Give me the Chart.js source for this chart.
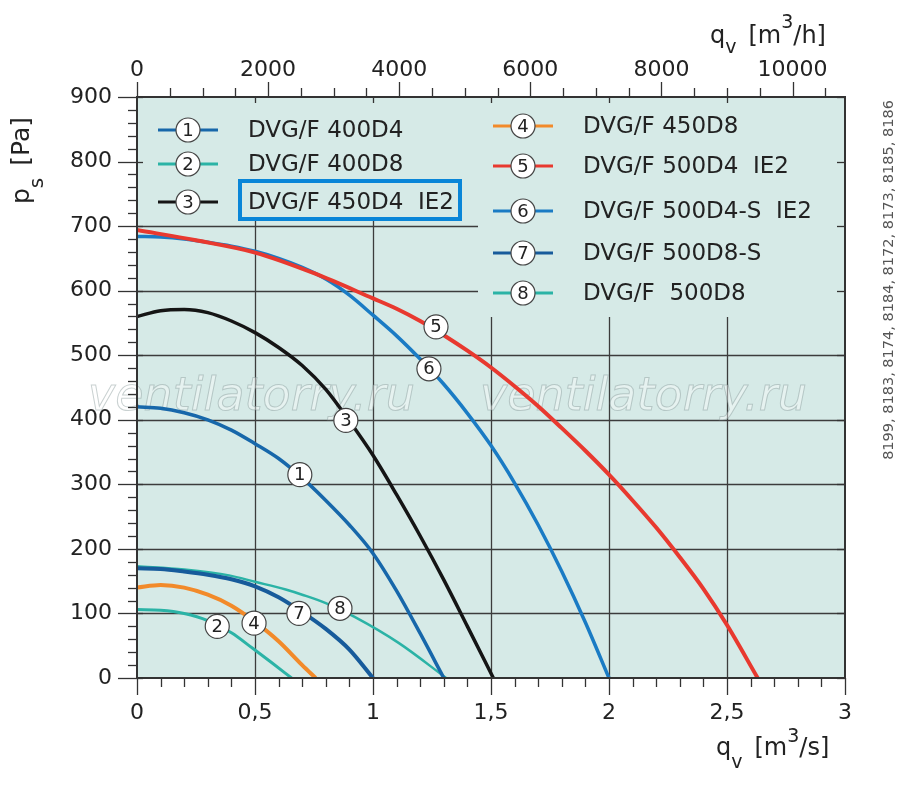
<!DOCTYPE html>
<html>
<head>
<meta charset="utf-8">
<script src="https://cdn.jsdelivr.net/npm/chart.js@4.4.1/dist/chart.umd.min.js"></script>
<style>
html, body { margin: 0; padding: 0; background: #fff; }
#c { display: block; }
</style>
</head>
<body>
<canvas id="c" width="900" height="785"></canvas>
<script>
// fan curves, q in m3/s, ps in Pa
var q1 = [0, 0.1, 0.2, 0.3, 0.4, 0.5, 0.6, 0.7, 0.8, 0.9, 1.0, 1.1, 1.2, 1.3];
var ps1 = [420, 418, 411, 400, 384, 363, 340, 310, 275, 237, 193, 135, 69, 0];
var q2 = [0, 0.1, 0.2, 0.3, 0.4, 0.49, 0.57, 0.655];
var ps2 = [106, 105, 100, 89, 70, 46, 24, 0];
var q3 = [0, 0.1, 0.2, 0.3, 0.4, 0.5, 0.6, 0.7, 0.8, 0.9, 1.0, 1.1, 1.2, 1.3, 1.4, 1.51];
var ps3 = [560, 569, 571, 566, 553, 535, 512, 484, 447, 398, 345, 284, 220, 152, 80, 0];
var q4 = [0, 0.1, 0.2, 0.3, 0.4, 0.5, 0.6, 0.7, 0.757];
var ps4 = [140, 144, 140, 129, 112, 87, 57, 20, 0];
var q5 = [0, 0.25, 0.5, 0.75, 1.0, 1.1, 1.2, 1.3, 1.4, 1.5, 1.6, 1.7, 1.8, 1.9, 2.0, 2.1, 2.2, 2.3, 2.4, 2.5, 2.63];
var ps5 = [694, 678, 659, 627, 588, 572, 553, 531, 507, 481, 452, 421, 387, 352, 315, 275, 233, 187, 138, 82, 0];
var q6 = [0, 0.1, 0.2, 0.3, 0.4, 0.5, 0.6, 0.7, 0.8, 0.9, 1.0, 1.1, 1.2, 1.3, 1.4, 1.5, 1.6, 1.7, 1.8, 1.9, 2.0];
var ps6 = [684, 683, 680, 675, 669, 661, 650, 636, 618, 593, 562, 530, 494, 455, 410, 360, 302, 237, 165, 86, 0];
var q7 = [0, 0.1, 0.2, 0.3, 0.4, 0.5, 0.6, 0.7, 0.8, 0.9, 1.0];
var ps7 = [170, 169, 165, 160, 153, 142, 125, 102, 76, 44, 0];
var q8 = [0, 0.2, 0.39, 0.5, 0.63, 0.7, 0.8, 0.92, 1.11, 1.31];
var ps8 = [173, 168, 159, 149, 137, 129, 116, 95, 54, 0];

var seriesNames = ['DVG/F 400D4', 'DVG/F 400D8', 'DVG/F 450D4  IE2', 'DVG/F 450D8',
	'DVG/F 500D4  IE2', 'DVG/F 500D4-S  IE2', 'DVG/F 500D8-S', 'DVG/F  500D8'];
var seriesColors = ['#1767aa', '#2bb3a6', '#151515', '#f28a2a', '#e8392f', '#1a7bc4', '#175b9b', '#2bb3a6'];
var seriesWidths = [3.5, 3, 3.5, 4, 4, 3.5, 4, 2.5];

// where the numbered circles sit on each curve (q, ps)
var markQ = [0.69, 0.34, 0.885, 0.496, 1.267, 1.237, 0.686, 0.86];
var markP = [315, 80, 399, 85, 544, 479, 100, 108];

var qTicks = [0, 0.5, 1, 1.5, 2, 2.5, 3];
var hourTicks = [0, 2000, 4000, 6000, 8000, 10000];
var psTicks = [0, 100, 200, 300, 400, 500, 600, 700, 800, 900];
var sideNote = '8199, 8183, 8174, 8184, 8172, 8173, 8185, 8186';

var FONT = 'DejaVu Sans';
var allQ = [q1, q2, q3, q4, q5, q6, q7, q8];
var allP = [ps1, ps2, ps3, ps4, ps5, ps6, ps7, ps8];

var datasets = allQ.map(function(qs, i) {
	return {
		label: seriesNames[i],
		data: qs.map(function(q, k) { return { x: q, y: allP[i][k] }; }),
		borderColor: seriesColors[i],
		borderWidth: seriesWidths[i],
		pointRadius: 0,
		cubicInterpolationMode: 'monotone',
		fill: false
	};
});

function line(ctx, x0, y0, x1, y1) {
	ctx.beginPath();
	ctx.moveTo(x0, y0);
	ctx.lineTo(x1, y1);
	ctx.stroke();
}

function circleNum(ctx, cx, cy, n) {
	ctx.beginPath();
	ctx.arc(cx, cy, 12, 0, Math.PI * 2);
	ctx.fillStyle = '#fff';
	ctx.fill();
	ctx.lineWidth = 1.2;
	ctx.strokeStyle = '#444';
	ctx.stroke();
	ctx.fillStyle = '#222';
	ctx.font = '18px "' + FONT + '"';
	ctx.textAlign = 'center';
	ctx.textBaseline = 'middle';
	ctx.fillText(String(n), cx, cy + 1);
}

// text with sub/superscript pieces: [text, size, dy, gapAfter]
function richText(ctx, parts, x, y) {
	parts.forEach(function(p) {
		ctx.font = p[1] + 'px "' + FONT + '"';
		ctx.fillText(p[0], x, y + p[2]);
		x += ctx.measureText(p[0]).width + (p[3] || 0);
	});
}

var panelPlugin = {
	id: 'panel',
	beforeDatasetsDraw: function(chart) {
		var ctx = chart.ctx, a = chart.chartArea, sx = chart.scales.x, sy = chart.scales.y;
		ctx.save();
		ctx.fillStyle = '#d6eae7';
		ctx.fillRect(a.left, a.top, a.right - a.left, a.bottom - a.top);

		// legend blocks keep the grid clear
		var split = 478, leftBottom = 218, rightBottom = 317;
		ctx.strokeStyle = '#3c3c3c';
		ctx.lineWidth = 1.3;
		qTicks.forEach(function(q) {
			if (q === 0 || q === 3) return;
			var px = Math.round(sx.getPixelForValue(q)) + 0.5;
			var top = px < split ? leftBottom : rightBottom;
			line(ctx, px, top, px, a.bottom);
		});
		psTicks.forEach(function(p) {
			if (p === 0 || p === 900) return;
			var py = Math.round(sy.getPixelForValue(p)) + 0.5;
			if (py < leftBottom) return;
			if (py < rightBottom) { line(ctx, a.left, py, split, py); return; }
			line(ctx, a.left, py, a.right, py);
		});

		// watermark
		ctx.font = 'italic 46px "' + FONT + '"';
		ctx.textAlign = 'left';
		ctx.textBaseline = 'alphabetic';
		ctx.lineWidth = 1;
		ctx.fillStyle = 'rgba(255,255,255,0.4)';
		ctx.strokeStyle = 'rgba(120,140,140,0.4)';
		[88, 480].forEach(function(wx) {
			ctx.fillText('ventilatorry.ru', wx, 410);
			ctx.strokeText('ventilatorry.ru', wx, 410);
		});
		ctx.restore();
	},
	afterDatasetsDraw: function(chart) {
		var ctx = chart.ctx, a = chart.chartArea, sx = chart.scales.x, sx2 = chart.scales.x2, sy = chart.scales.y;
		ctx.save();
		ctx.strokeStyle = '#333';
		ctx.lineWidth = 2;
		ctx.strokeRect(a.left, a.top, a.right - a.left, a.bottom - a.top);

		ctx.lineWidth = 1.3;
		var k, px, py;
		for (k = 0; k <= 30; k++) {
			px = Math.round(sx.getPixelForValue(k / 10)) + 0.5;
			line(ctx, px, a.bottom, px, a.bottom + (k % 5 === 0 ? 17 : 9));
			if (k % 5 === 0 && k > 0 && k < 30) line(ctx, px, a.top, px, a.top + 6);
		}
		for (k = 0; k <= 10800; k += 500) {
			px = Math.round(sx2.getPixelForValue(k)) + 0.5;
			line(ctx, px, a.top, px, a.top - (k % 2000 === 0 ? 15 : 9));
		}
		for (k = 0; k <= 900; k += 20) {
			py = Math.round(sy.getPixelForValue(k)) + 0.5;
			if (k % 100 === 0) {
				line(ctx, a.left - 19, py, a.left + 6, py);
				line(ctx, a.right - 8, py, a.right, py);
			} else {
				line(ctx, a.left - 9, py, a.left, py);
			}
		}

		// numbered circles on curves
		markQ.forEach(function(q, i) {
			circleNum(ctx, sx.getPixelForValue(q), sy.getPixelForValue(markP[i]), i + 1);
		});

		// legend
		var legL = [[130, 0], [164, 1], [202, 2]];
		var legR = [[126, 3], [166, 4], [211, 5], [253, 6], [293, 7]];
		function legItem(x0, y, i) {
			ctx.strokeStyle = seriesColors[i];
			ctx.lineWidth = 3;
			line(ctx, x0, y, x0 + 60, y);
			circleNum(ctx, x0 + 30, y, i + 1);
			ctx.fillStyle = '#222';
			ctx.font = '23px "' + FONT + '"';
			ctx.textAlign = 'left';
			ctx.textBaseline = 'middle';
			ctx.fillText(seriesNames[i], x0 + 90, y + 1);
		}
		legL.forEach(function(it) { legItem(158, it[0], it[1]); });
		legR.forEach(function(it) { legItem(493, it[0], it[1]); });
		ctx.strokeStyle = '#0a86d8';
		ctx.lineWidth = 4;
		ctx.strokeRect(240, 181, 220, 38);

		// axis titles
		ctx.fillStyle = '#222';
		ctx.textAlign = 'left';
		ctx.textBaseline = 'alphabetic';
		richText(ctx, [['q', 24, 0], ['v', 19, 13, 12], ['[m', 24, 0], ['3', 19, -13], ['/s]', 24, 0]], 716, 755);
		richText(ctx, [['q', 24, 0], ['v', 19, 10, 12], ['[m', 24, 0], ['3', 19, -15], ['/h]', 24, 0]], 710, 43);
		ctx.save();
		ctx.translate(29, 204);
		ctx.rotate(-Math.PI / 2);
		richText(ctx, [['p', 25, 0], ['s', 20, 14, 12], ['[Pa]', 25, 0]], 0, 0);
		ctx.restore();

		ctx.save();
		ctx.translate(893, 280);
		ctx.rotate(-Math.PI / 2);
		ctx.fillStyle = '#555';
		ctx.font = '14.5px "' + FONT + '"';
		ctx.textAlign = 'center';
		ctx.fillText(sideNote, 0, 0);
		ctx.restore();
		ctx.restore();
	}
};

var tickFont = { family: FONT, size: 22 };

new Chart(document.getElementById('c').getContext('2d'), {
	type: 'line',
	data: { datasets: datasets },
	options: {
		responsive: false,
		animation: false,
		layout: { padding: { right: 55 } },
		plugins: { legend: { display: false }, tooltip: { enabled: false } },
		scales: {
			x: {
				type: 'linear', position: 'bottom', min: 0, max: 3,
				afterBuildTicks: function(s) { s.ticks = qTicks.map(function(v) { return { value: v }; }); },
				ticks: {
					font: tickFont, color: '#222', padding: 22, maxRotation: 0, autoSkip: false,
					callback: function(v) { return String(v).replace('.', ','); }
				},
				grid: { display: false, drawTicks: false },
				border: { display: false },
				afterFit: function(s) { s.height = 107; }
			},
			x2: {
				type: 'linear', position: 'top', min: 0, max: 10800,
				afterBuildTicks: function(s) { s.ticks = hourTicks.map(function(v) { return { value: v }; }); },
				ticks: {
					font: tickFont, color: '#222', padding: 14, maxRotation: 0, autoSkip: false,
					callback: function(v) { return String(v); }
				},
				grid: { display: false, drawTicks: false },
				border: { display: false },
				afterFit: function(s) { s.height = 97; }
			},
			y: {
				min: 0, max: 900,
				afterBuildTicks: function(s) { s.ticks = psTicks.map(function(v) { return { value: v }; }); },
				ticks: { font: tickFont, color: '#222', padding: 25, autoSkip: false },
				grid: { display: false, drawTicks: false },
				border: { display: false },
				afterFit: function(s) { s.height; s.width = 137; }
			}
		}
	},
	plugins: [panelPlugin]
});
</script>
</body>
</html>
